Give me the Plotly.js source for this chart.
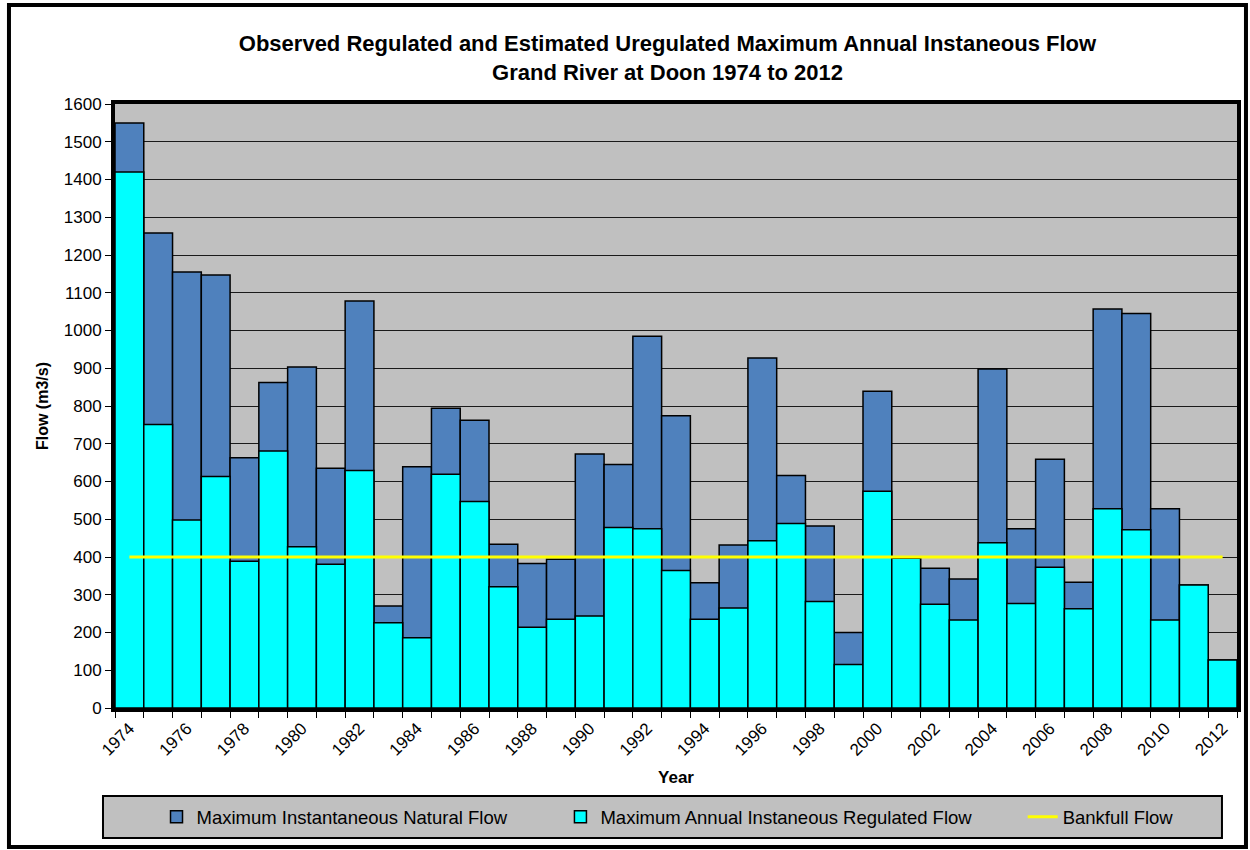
<!DOCTYPE html>
<html>
<head>
<meta charset="utf-8">
<script src="https://cdn.plot.ly/plotly-3.0.1.min.js"></script>
<style>html,body{margin:0;padding:0;background:#fff;}#chart{width:1250px;height:850px;}</style>
</head>
<body>
<div id="chart"></div>
<script>
const years = [1974,1975,1976,1977,1978,1979,1980,1981,1982,1983,1984,1985,1986,1987,1988,1989,1990,1991,1992,1993,1994,1995,1996,1997,1998,1999,2000,2001,2002,2003,2004,2005,2006,2007,2008,2009,2010,2011,2012];
const naturalFlow = [1550,1258,1155,1147,663,862,903,635,1078,270,639,794,762,434,383,394,673,645,985,774,332,432,927,616,482,200,839,397,370,342,898,475,659,333,1057,1045,528,326,127];
const regulatedFlow = [1420,751,498,613,389,681,427,381,629,226,186,619,547,321,214,235,244,478,475,364,235,265,443,489,282,115,574,397,275,233,438,277,373,263,528,472,233,326,127];
const bankfullFlow = 400;
const bankfullX = [years[0], years[years.length-1]];
const xTickLabels = years.filter((y,i)=> i%2===0);
const yTicks = [0,100,200,300,400,500,600,700,800,900,1000,1100,1200,1300,1400,1500,1600];

const font = 'Liberation Sans, Arial, sans-serif';

const traces = [
  {type:'bar', x:years, y:naturalFlow, name:'Maximum Instantaneous Natural Flow',
   marker:{color:'#4F81BD', line:{color:'#000', width:1.5}}, width:1, legend:'legend', hoverinfo:'x+y'},
  {type:'bar', x:years, y:regulatedFlow, name:'Maximum Annual Instaneous Regulated Flow',
   marker:{color:'#00FFFF', line:{color:'#000', width:1.5}}, width:1, legend:'legend2', hoverinfo:'x+y'},
  {type:'scatter', mode:'lines', x:bankfullX, y:[bankfullFlow,bankfullFlow], name:'Bankfull Flow',
   line:{color:'#FFFF00', width:3}, legend:'legend3'}
];

const legendBase = {orientation:'h', bgcolor:'rgba(0,0,0,0)', borderwidth:0,
  font:{family:font, size:18.5, color:'#000'}, yanchor:'middle', y:-0.181, xanchor:'left'};

const layout = {
  width:1250, height:850,
  margin:{l:115, r:13, t:104, b:142},
  paper_bgcolor:'#fff', plot_bgcolor:'#C0C0C0',
  barmode:'overlay', bargap:0,
  title:{text:'<b>Observed Regulated and Estimated Uregulated Maximum Annual Instaneous Flow<br>Grand River at Doon 1974 to 2012</b>',
    font:{family:font, size:22, color:'#000'}, x:0.534, xanchor:'center', xref:'container', y:0.94, yanchor:'top', yref:'container'},
  xaxis:{type:'linear', range:[1973.5,2012.5], tickvals:xTickLabels, ticktext:xTickLabels.map(String),
    tickangle:-45, ticks:'', showgrid:false, zeroline:false,
    tickfont:{family:font, size:17, color:'#000'},
    showline:true, linecolor:'#000', linewidth:4, mirror:true,
    minor:{tick0:1973.5, dtick:1, ticks:'outside', ticklen:6, tickcolor:'#000', tickwidth:1, showgrid:false},
    title:{text:'<b>Year</b>', font:{family:font, size:17, color:'#000'}, standoff:14}},
  yaxis:{range:[0,1600], tickvals:yTicks, ticks:'outside', ticklen:6, tickcolor:'#000',
    showgrid:true, gridcolor:'#1a1a1a', gridwidth:1, zeroline:false,
    tickfont:{family:font, size:17, color:'#000'},
    showline:true, linecolor:'#000', linewidth:4, mirror:true,
    title:{text:'<b>Flow (m3/s)</b>', font:{family:font, size:16, color:'#000'}, standoff:12}},
  legend:Object.assign({}, legendBase, {x:0.037}),
  legend2:Object.assign({}, legendBase, {x:0.397}),
  legend3:Object.assign({}, legendBase, {x:0.809}),
  shapes:[
    {type:'rect', xref:'paper', yref:'paper', x0:-0.0107, x1:0.9866, y0:-0.1457, y1:-0.2152,
     fillcolor:'#C0C0C0', line:{color:'#000', width:2}, layer:'below'},
    {type:'rect', xref:'paper', yref:'paper', x0:-0.0945, x1:1.008, y0:-0.230, y1:1.164,
     fillcolor:'rgba(0,0,0,0)', line:{color:'#000', width:4}, layer:'below'}
  ],
  showlegend:true
};

Plotly.newPlot('chart', traces, layout, {displayModeBar:false, staticPlot:true});
</script>
</body>
</html>
